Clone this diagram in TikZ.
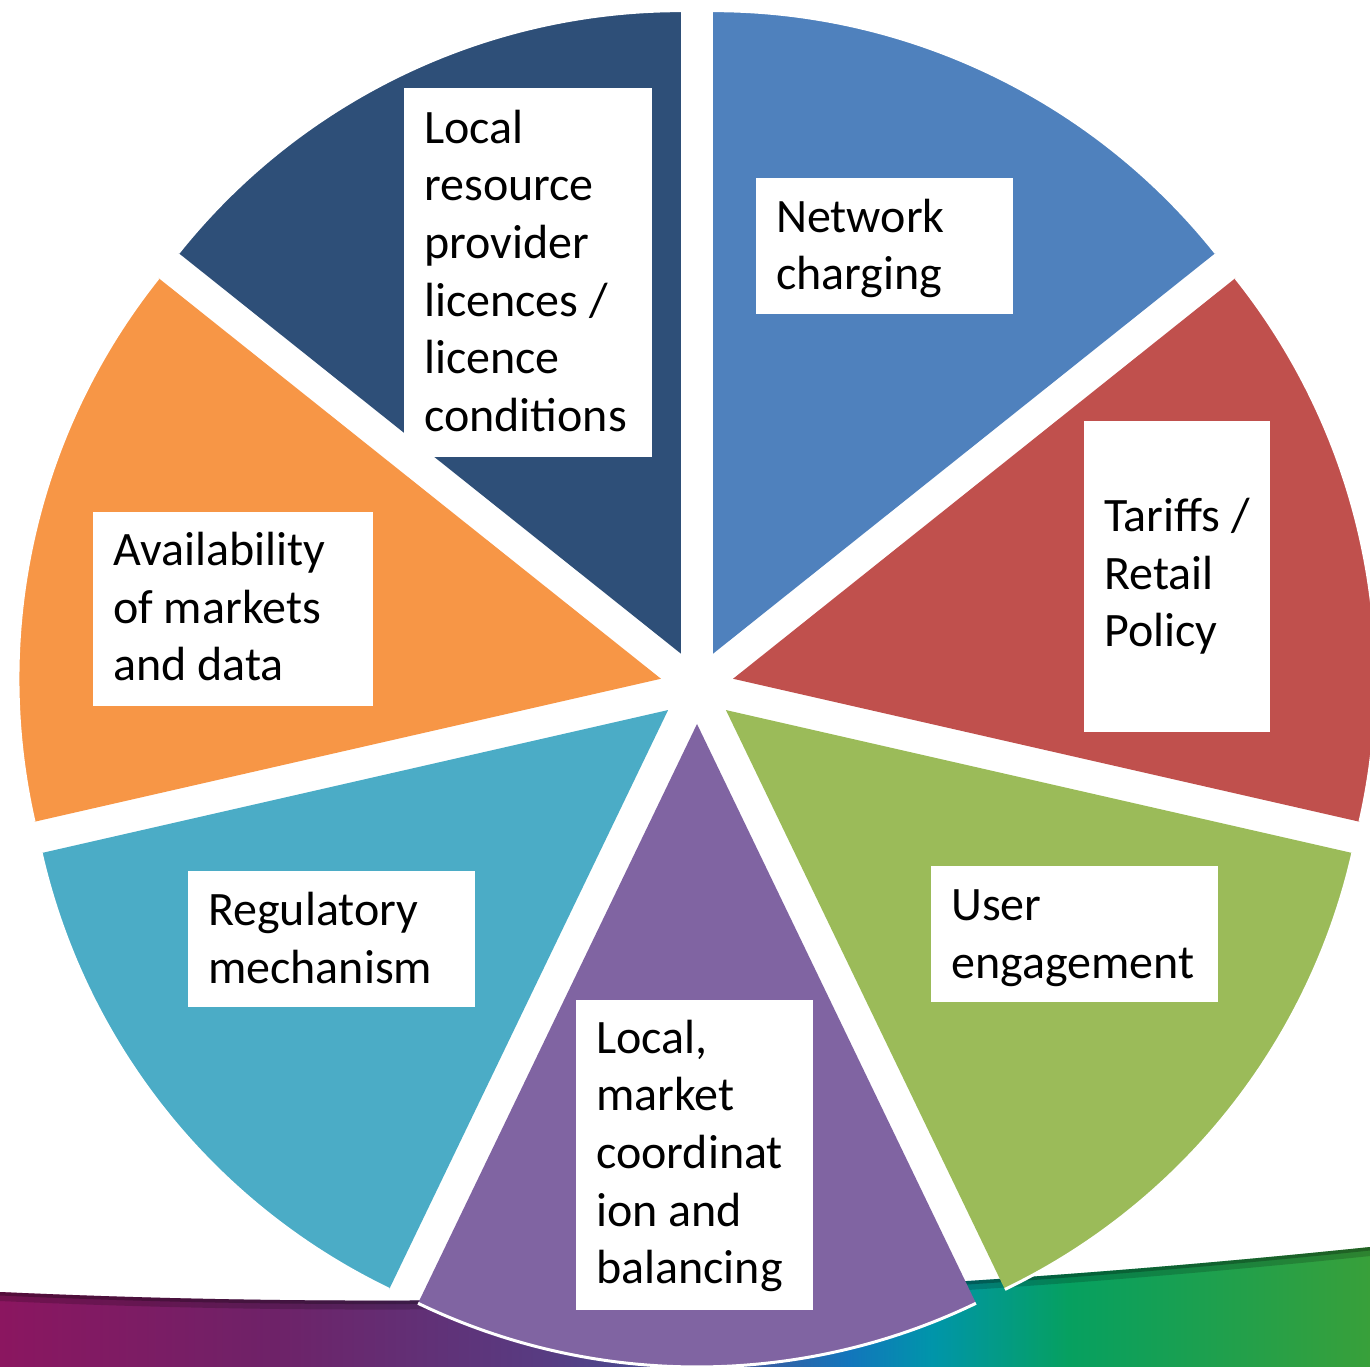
\documentclass[tikz,border=0pt]{standalone}
\usepackage{fontspec}
\setmainfont{Carlito}
\usetikzlibrary{calc}
\definecolor{cBlue}{HTML}{4F81BD}
\definecolor{cNavy}{HTML}{2E4F78}
\definecolor{cRed}{HTML}{C0504D}
\definecolor{cGreen}{HTML}{9BBB59}
\definecolor{cPurple}{HTML}{8064A2}
\definecolor{cTeal}{HTML}{4BACC6}
\definecolor{cOrange}{HTML}{F79646}
\definecolor{b0}{HTML}{8B1660}
\definecolor{b1}{HTML}{6E2268}
\definecolor{b2}{HTML}{573C82}
\definecolor{b3}{HTML}{3A5CA0}
\definecolor{b4}{HTML}{1276BC}
\definecolor{b5}{HTML}{0095AA}
\definecolor{b6}{HTML}{06A060}
\definecolor{b7}{HTML}{38A03A}
\pgfdeclarehorizontalshading{bandshade}{100bp}{color(0bp)=(b0); color(25bp)=(b0); color(35bp)=(b1); color(45bp)=(b2); color(52.5bp)=(b3); color(56bp)=(b4); color(59bp)=(b5); color(64bp)=(b6); color(75bp)=(b7); color(100bp)=(b7)}
\tikzset{
  wbox/.style={fill=white, draw=none, inner sep=0, anchor=north west},
  lbl/.style={anchor=base west, inner sep=0, text width=400pt, align=flush left,
    font=\fontsize{48pt}{57.6pt}\selectfont, text=black},
  rimline/.style={white, line width=3pt}
}
\begin{document}
\begin{tikzpicture}[x=1pt,y=1pt]
\fill[white] (0,0) rectangle (1370,1366);
\useasboundingbox (0,0) rectangle (1370,1366);
\clip (0,0) rectangle (1370,1366);
% bottom band
\path[shading=bandshade] (0,74) .. controls (350,58) and (800,60) .. (1370,119) -- (1370,-2) -- (0,-2) -- cycle;
\begin{scope}
\clip (0,74) .. controls (350,58) and (800,60) .. (1370,119) -- (1370,-2) -- (0,-2) -- cycle;
\draw[black, opacity=0.18, line width=18pt] (0,74) .. controls (350,58) and (800,60) .. (1370,119);
\draw[black, opacity=0.25, line width=7pt] (0,74) .. controls (350,58) and (800,60) .. (1370,119);
\end{scope}
% pie
\coordinate (C) at (697,679);
\foreach \col/\a/\b in {cBlue/38.5714/90, cNavy/90/141.4286, cOrange/141.4286/192.8571, cTeal/192.8571/244.2857, cPurple/244.2857/295.7143, cGreen/295.7143/347.1429, cRed/-12.8571/38.5714}{
  \coordinate (o) at ($(C)+({(\a+\b)/2}:37pt)$);
  \fill[\col] (o) -- ($(o)+(\a:643pt)$) arc[start angle=\a, end angle=\b, radius=643pt] -- cycle;
  \draw[rimline] ($(o)+(\a:643pt)$) arc[start angle=\a, end angle=\b, radius=643pt];
}
% boxes
\node[wbox, minimum width=248pt, minimum height=369pt] (bNavy) at (404,1278) {};
\node[wbox, minimum width=257pt, minimum height=136pt] (bBlue) at (756,1188) {};
\node[wbox, minimum width=186pt, minimum height=311pt] (bRed) at (1084,945) {};
\node[wbox, minimum width=287pt, minimum height=136pt] (bGreen) at (931,500) {};
\node[wbox, minimum width=237pt, minimum height=310pt] (bPurple) at (576,366) {};
\node[wbox, minimum width=287pt, minimum height=136pt] (bTeal) at (188,495) {};
\node[wbox, minimum width=280pt, minimum height=194pt] (bOrange) at (93,854) {};
% labels
\node[lbl] (tNavy) at (424,1222.7) {Local\\resource\\provider\\licences /\\licence\\conditions};
\node[lbl] (tBlue) at (776,1133.7) {Network\\charging};
\node[lbl] (tRed) at (1104,834.3) {Tariffs /\\Retail\\Policy};
\node[lbl] (tGreen) at (951,445.3) {User\\engagement};
\node[lbl] (tPurple) at (596,312.7) {Local,\\market\\coordinat\\ion and\\balancing};
\node[lbl] (tTeal) at (208,440.3) {Regulatory\\mechanism};
\node[lbl] (tOrange) at (113,800.3) {Availability\\of markets\\and data};
\end{tikzpicture}
\end{document}
